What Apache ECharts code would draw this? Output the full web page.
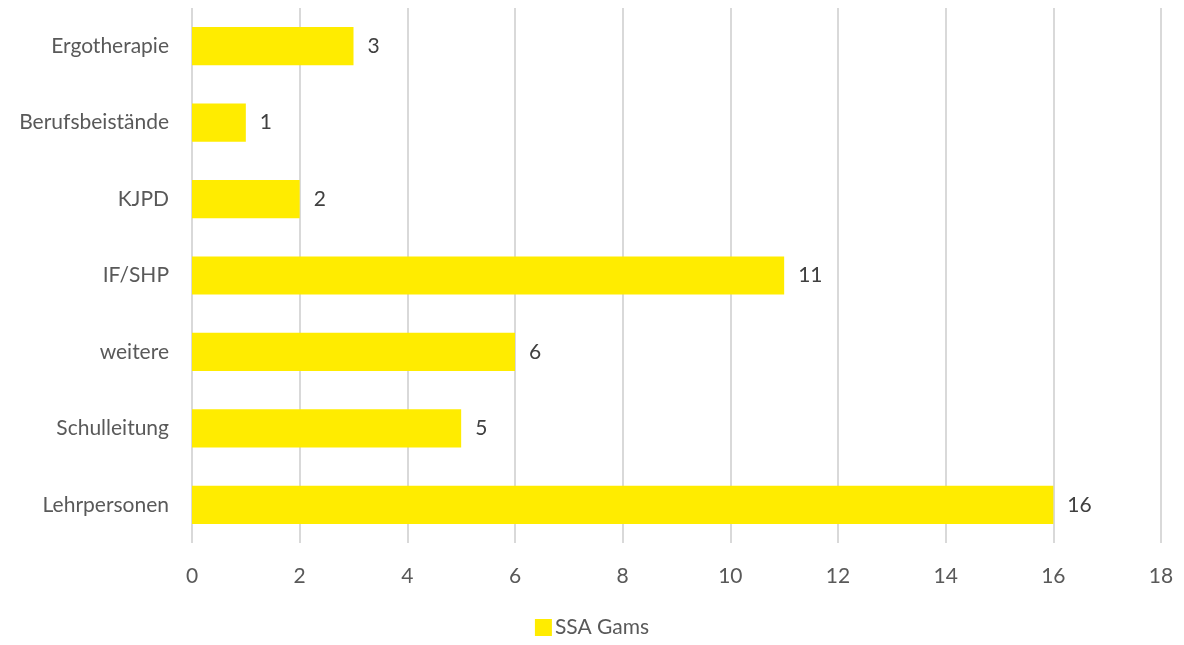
<!DOCTYPE html>
<html>
<head>
<meta charset="utf-8">
<style>
  html, body { margin: 0; padding: 0; background: #ffffff; }
  #chart { width: 1184px; height: 645px; }
</style>
<script src="https://cdn.jsdelivr.net/npm/echarts@6/dist/echarts.min.js"></script>
</head>
<body>
<div id="chart"></div>
<script>
// Categories listed top to bottom
const categories = ['Ergotherapie', 'Berufsbeistände', 'KJPD', 'IF/SHP', 'weitere', 'Schulleitung', 'Lehrpersonen'];
const seriesName = 'SSA Gams';
const values = [3, 1, 2, 11, 6, 5, 16];
const xTicks = [0, 2, 4, 6, 8, 10, 12, 14, 16, 18];

const FONT = 'Lato, "Open Sans", sans-serif';
const chart = echarts.init(document.getElementById('chart'), null, { renderer: 'canvas' });

chart.setOption({
  backgroundColor: '#ffffff',
  animation: false,
  textStyle: { fontFamily: FONT },
  grid: { left: 192, right: 23, top: 8, bottom: 102, containLabel: false },
  legend: {
    data: [seriesName],
    bottom: 2,
    left: 'center',
    itemWidth: 17,
    itemHeight: 17,
    itemGap: 4,
    icon: 'rect',
    textStyle: { fontFamily: FONT, fontSize: 21, color: '#595959', padding: [0, 0, 0, -2] }
  },
  xAxis: {
    type: 'value',
    min: xTicks[0],
    max: xTicks[xTicks.length - 1],
    interval: 2,
    axisLine: { show: false },
    axisTick: { show: false },
    axisLabel: { fontFamily: FONT, fontSize: 21, color: '#595959', margin: 23 },
    splitLine: { lineStyle: { color: '#d9d9d9', width: 2 } }
  },
  yAxis: {
    type: 'category',
    data: categories,
    inverse: true,
    axisLine: { show: false },
    axisTick: { show: false },
    axisLabel: { fontFamily: FONT, fontSize: 21, color: '#595959', margin: 23 }
  },
  series: [{
    name: seriesName,
    type: 'bar',
    data: values,
    barWidth: '50%',
    itemStyle: { color: '#FFEC00' },
    label: {
      show: true,
      position: 'right',
      distance: 14,
      fontFamily: FONT,
      fontSize: 21,
      color: '#404040'
    }
  }]
});
</script>
</body>
</html>
